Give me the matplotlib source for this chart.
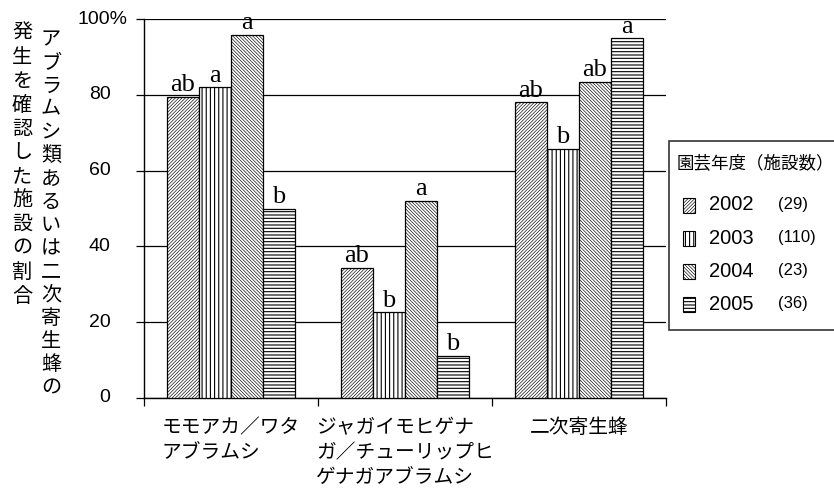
import matplotlib
matplotlib.use("Agg")
import matplotlib.pyplot as plt
from matplotlib.patches import Rectangle
import numpy as np

# data
groups = ["モモアカ／ワタ\nアブラムシ", "ジャガイモヒゲナ\nガ／チューリップヒ\nゲナガアブラムシ", "二次寄生蜂"]
years = ["2002", "2003", "2004", "2005"]
counts = ["(29)", "(110)", "(23)", "(36)"]
vals_2002 = [79.5, 34.4, 78.0]
vals_2003 = [82.0, 22.6, 65.7]
vals_2004 = [95.9, 52.1, 83.4]
vals_2005 = [50.0, 11.2, 94.9]
letters_2002 = ["ab", "ab", "ab"]
letters_2003 = ["a", "b", "b"]
letters_2004 = ["a", "a", "ab"]
letters_2005 = ["b", "b", "a"]
ylabel_right = "アブラムシ類あるいは二次寄生蜂の"
ylabel_left = "発生を確認した施設の割合"

series = [vals_2002, vals_2003, vals_2004, vals_2005]
letters = [letters_2002, letters_2003, letters_2004, letters_2005]
hatches = ["/" * 10, "|" * 4, "\\" * 10, "-" * 5]
hatch_lw = [0.45, 0.8, 0.45, 0.8]

JP = ["Noto Sans CJK JP", "DejaVu Sans"]
SANS = ["Liberation Sans", "DejaVu Sans"]
SERIF = ["Liberation Serif", "DejaVu Serif"]

plt.rcParams["font.family"] = SANS

W, H = 834, 488
fig = plt.figure(figsize=(W / 100, H / 100), dpi=100)
ax = fig.add_axes([144 / W, 1 - 398 / H, (666 - 144) / W, (398 - 19) / H])

x = np.arange(len(groups))
bw = 0.184
for i, vals in enumerate(series):
    pos = x + (i - 1.5) * bw
    with plt.rc_context({"hatch.linewidth": hatch_lw[i]}):
        bars = ax.bar(pos, vals, bw, color="white", edgecolor="black",
                      linewidth=0.9, hatch=hatches[i], zorder=3)
    for b, v, t in zip(bars, vals, letters[i]):
        ax.annotate(t, (b.get_x() + b.get_width() / 2, v), xytext=(0, 4),
                    textcoords="offset points", ha="center", va="baseline",
                    fontsize=19, family=SERIF, zorder=4, annotation_clip=False)

ax.set_xlim(-0.5, 2.5)
ax.set_ylim(0, 100)
ax.set_yticks(np.arange(0, 101, 20))
ax.set_yticklabels([])
ax.grid(axis="y", color="black", linewidth=0.9, zorder=0)
ax.tick_params(axis="y", direction="out", length=6, width=0.9)
for v in range(0, 100, 20):
    ax.text(-0.064, v, str(v), transform=ax.get_yaxis_transform(),
            ha="right", va="center", fontsize=14)
ax.text(-0.032, 100, "100%", transform=ax.get_yaxis_transform(),
        ha="right", va="center", fontsize=14)

ax.set_xticks([-0.5, 0.5, 1.5, 2.5])
ax.set_xticklabels([])
ax.tick_params(axis="x", which="major", direction="out", length=6, width=0.9)
ax.set_xticks(x, minor=True)
ax.set_xticklabels(groups, minor=True, family=JP, fontsize=14.2,
                   multialignment="left", linespacing=1.25)
ax.tick_params(axis="x", which="minor", length=0, pad=14)

for s in ["top", "right"]:
    ax.spines[s].set_visible(False)
for s in ["left", "bottom"]:
    ax.spines[s].set_linewidth(1.0)

# vertical y axis title, two columns
fig.text(51 / W, 1 - 29 / H, "\n".join(ylabel_right), ha="center", va="top",
         fontsize=14.5, family=JP, linespacing=1.14, multialignment="center")
fig.text(22 / W, 1 - 23 / H, "\n".join(ylabel_left), ha="center", va="top",
         fontsize=14.5, family=JP, linespacing=1.18, multialignment="center")

# legend box
fig.patches.append(Rectangle((669 / W, 1 - 330 / H), 180 / W, 189 / H,
                             transform=fig.transFigure, facecolor="white",
                             edgecolor="#333333", linewidth=1.2))
fig.text(677 / W, 1 - 163 / H, "園芸年度（施設数）", ha="left", va="center",
         fontsize=12.6, family=JP)
for i, (yr, c) in enumerate(zip(years, counts)):
    yc = 205 + 33.3 * i
    with plt.rc_context({"hatch.linewidth": hatch_lw[i]}):
        fig.patches.append(Rectangle((683 / W, 1 - (yc + 7.5) / H), 12 / W, 15 / H,
                                     transform=fig.transFigure, facecolor="white",
                                     edgecolor="black", linewidth=0.8,
                                     hatch=hatches[i]))
    fig.text(709 / W, 1 - yc / H, yr, ha="left", va="center", fontsize=14.5)
    fig.text(778 / W, 1 - (yc - 1) / H, c, ha="left", va="center", fontsize=12)

fig.savefig("out.png", dpi=100)
